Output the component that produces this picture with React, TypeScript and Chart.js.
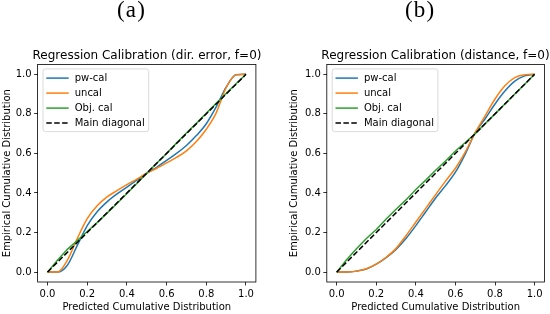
import React, { useEffect, useRef } from "react";
import { Chart, registerables } from "chart.js";

Chart.register(...registerables);

// ---------- data ----------
const GRID_X = [0, 0.05, 0.1, 0.15, 0.2, 0.25, 0.3, 0.35, 0.4, 0.45, 0.5, 0.55, 0.6, 0.65, 0.7, 0.75, 0.8, 0.85, 0.9, 0.95, 1.0];

// panel (a): dir. error
const A_PWCAL = [0, 0.0, 0.035, 0.135, 0.235, 0.305, 0.355, 0.395, 0.43, 0.465, 0.5, 0.53, 0.565, 0.6, 0.64, 0.69, 0.75, 0.835, 0.935, 0.998, 1.0];
const A_UNCAL = [0, 0.0, 0.06, 0.17, 0.27, 0.335, 0.38, 0.412, 0.442, 0.47, 0.5, 0.525, 0.552, 0.58, 0.613, 0.66, 0.722, 0.805, 0.932, 0.997, 1.0];
const A_OBJCAL = [0, 0.06, 0.115, 0.16, 0.205, 0.25, 0.298, 0.347, 0.397, 0.448, 0.5, 0.55, 0.6, 0.652, 0.703, 0.752, 0.803, 0.853, 0.903, 0.952, 1.0];

// panel (b): distance
const B_PWCAL = [0, 0.0, 0.005, 0.016, 0.04, 0.073, 0.115, 0.17, 0.235, 0.305, 0.375, 0.437, 0.505, 0.598, 0.705, 0.775, 0.85, 0.915, 0.965, 0.992, 1.0];
const B_UNCAL = [0, 0.0, 0.005, 0.017, 0.04, 0.075, 0.12, 0.184, 0.253, 0.322, 0.392, 0.46, 0.525, 0.608, 0.705, 0.79, 0.875, 0.942, 0.983, 0.998, 1.0];
const B_OBJCAL = [0, 0.062, 0.118, 0.17, 0.215, 0.268, 0.318, 0.365, 0.418, 0.465, 0.515, 0.562, 0.612, 0.655, 0.7, 0.75, 0.8, 0.85, 0.9, 0.95, 1.0];

const DIAG_X = [0, 1];
const DIAG_Y = [0, 1];

const AXIS_TICKS = [0, 0.2, 0.4, 0.6, 0.8, 1.0];
const AXIS_TICK_LABELS = ["0.0", "0.2", "0.4", "0.6", "0.8", "1.0"];
const SERIES_LABELS = ["pw-cal", "uncal", "Obj. cal", "Main diagonal"];
const SERIES_COLORS = ["#1f77b4", "#ff7f0e", "#2ca02c", "#000000"];
const TITLES = ["Regression Calibration (dir. error, f=0)", "Regression Calibration (distance, f=0)"];
const PANEL_LABELS = ["(a)", "(b)"];
const X_TITLE = "Predicted Cumulative Distribution";
const Y_TITLE = "Empirical Cumulative Distribution";

const FONT = "'DejaVu Sans', sans-serif";

const frameLegendPlugin = {
  id: "frameLegend",
  afterDatasetsDraw(chart: any) {
    const { ctx, chartArea: a } = chart;
    ctx.save();
    ctx.strokeStyle = "#000";
    ctx.lineWidth = 0.8;
    ctx.strokeRect(a.left, a.top, a.right - a.left, a.bottom - a.top);

    const bx = a.left + 5.4;
    const by = a.top + 4.5;
    const bw = 105.7;
    const bh = 62.7;
    ctx.beginPath();
    if (ctx.roundRect) ctx.roundRect(bx, by, bw, bh, 2.5);
    else ctx.rect(bx, by, bw, bh);
    ctx.fillStyle = "rgba(255,255,255,0.8)";
    ctx.fill();
    ctx.strokeStyle = "#d0d0d0";
    ctx.lineWidth = 0.8;
    ctx.stroke();

    chart.data.datasets.forEach((ds: any, i: number) => {
      const y = by + 9.2 + i * 15;
      ctx.beginPath();
      ctx.setLineDash(ds.borderDash || []);
      ctx.strokeStyle = ds.borderColor;
      ctx.lineWidth = ds.borderWidth;
      ctx.moveTo(bx + 3.3, y);
      ctx.lineTo(bx + 25.7, y);
      ctx.stroke();
      ctx.setLineDash([]);
      ctx.fillStyle = "#000";
      ctx.font = `10px ${FONT}`;
      ctx.textBaseline = "middle";
      ctx.textAlign = "left";
      ctx.fillText(ds.label, bx + 31.7, y);
    });
    ctx.restore();
  },
};

type PanelProps = {
  left: number;
  width: number;
  yAxisW: number;
  rightW: number;
  yTitlePad: number;
  title: string;
  pw: number[];
  uncal: number[];
  obj: number[];
};

function Panel(props: PanelProps) {
  const ref = useRef<HTMLCanvasElement | null>(null);
  useEffect(() => {
    if (!ref.current) return;
    const mk = (ys: number[]) => GRID_X.map((x, i) => ({ x, y: ys[i] }));
    const axisBase = (isX: boolean) => ({
      type: "linear" as const,
      min: -0.05,
      max: 1.05,
      afterBuildTicks: (s: any) => {
        s.ticks = AXIS_TICKS.map((v) => ({ value: v }));
      },
      ticks: {
        callback: (v: any) => {
          const k = AXIS_TICKS.findIndex((t) => Math.abs(t - v) < 1e-9);
          return k >= 0 ? AXIS_TICK_LABELS[k] : "";
        },
        color: "#000",
        font: { family: FONT, size: 10 },
        padding: isX ? 2.8 : 2.5,
        autoSkip: false,
        maxRotation: 0,
        minRotation: 0,
      },
      grid: {
        display: true,
        drawOnChartArea: false,
        drawTicks: true,
        tickLength: 3.5,
        tickWidth: 0.8,
        tickColor: "#000",
      },
      border: { display: false },
      title: {
        display: true,
        text: isX ? X_TITLE : Y_TITLE,
        color: "#000",
        font: { family: FONT, size: 10 },
        padding: isX ? { top: 0, bottom: 0.7 } : { top: props.yTitlePad, bottom: 0 },
      },
    });

    const chart = new Chart(ref.current, {
      type: "line",
      data: {
        datasets: [
          { label: SERIES_LABELS[0], data: mk(props.pw), borderColor: SERIES_COLORS[0], borderWidth: 1.5, pointRadius: 0, cubicInterpolationMode: "monotone", order: 3, fill: false },
          { label: SERIES_LABELS[1], data: mk(props.uncal), borderColor: SERIES_COLORS[1], borderWidth: 1.5, pointRadius: 0, cubicInterpolationMode: "monotone", order: 2, fill: false },
          { label: SERIES_LABELS[2], data: mk(props.obj), borderColor: SERIES_COLORS[2], borderWidth: 1.5, pointRadius: 0, tension: 0, order: 1, fill: false },
          { label: SERIES_LABELS[3], data: DIAG_X.map((x, i) => ({ x, y: DIAG_Y[i] })), borderColor: SERIES_COLORS[3], borderWidth: 1.5, borderDash: [5.5, 2.4], pointRadius: 0, tension: 0, order: 0, fill: false },
        ] as any,
      },
      options: {
        animation: false,
        responsive: false,
        maintainAspectRatio: false,
        devicePixelRatio: 1,
        layout: { padding: 0 },
        plugins: {
          legend: { display: false },
          tooltip: { enabled: false },
          title: {
            display: true,
            text: props.title,
            color: "#000",
            font: { family: FONT, size: 12, weight: "normal" as any },
            padding: { top: 48.3, bottom: 1.7 },
          },
        },
        scales: {
          x: { ...axisBase(true), position: "bottom", afterFit: (s: any) => { s.height = 32; } } as any,
          y: { ...axisBase(false), position: "left", afterFit: (s: any) => { s.width = props.yAxisW; } } as any,
          yR: {
            type: "linear",
            position: "right",
            display: true,
            grid: { display: false },
            ticks: { display: false },
            border: { display: false },
            afterFit: (s: any) => { s.width = props.rightW; },
          } as any,
        },
      },
      plugins: [frameLegendPlugin],
    });
    return () => chart.destroy();
  }, []);
  return (
    <canvas
      ref={ref}
      width={props.width}
      height={314}
      style={{ position: "absolute", left: props.left, top: 0, width: props.width, height: 314 }}
    />
  );
}

export default function App() {
  const labelStyle = (left: number): React.CSSProperties => ({
    position: "absolute",
    left,
    top: -2.3,
    fontFamily: "'Liberation Serif', 'Times New Roman', serif",
    fontSize: 23,
    lineHeight: "23px",
    letterSpacing: 1.2,
    color: "#000",
    whiteSpace: "nowrap",
  });
  return (
    <div style={{ position: "fixed", left: 0, top: 0, width: 550, height: 314, overflow: "hidden", background: "#fff" }}>
      <Panel left={0} width={294} yAxisW={37.6} rightW={38.1} yTitlePad={1.5} title={TITLES[0]} pw={A_PWCAL} uncal={A_UNCAL} obj={A_OBJCAL} />
      <Panel left={285} width={301} yAxisW={41.8} rightW={41.5} yTitlePad={3.5} title={TITLES[1]} pw={B_PWCAL} uncal={B_UNCAL} obj={B_OBJCAL} />
      <div style={labelStyle(117)}>{PANEL_LABELS[0]}</div>
      <div style={labelStyle(405)}>{PANEL_LABELS[1]}</div>
    </div>
  );
}
